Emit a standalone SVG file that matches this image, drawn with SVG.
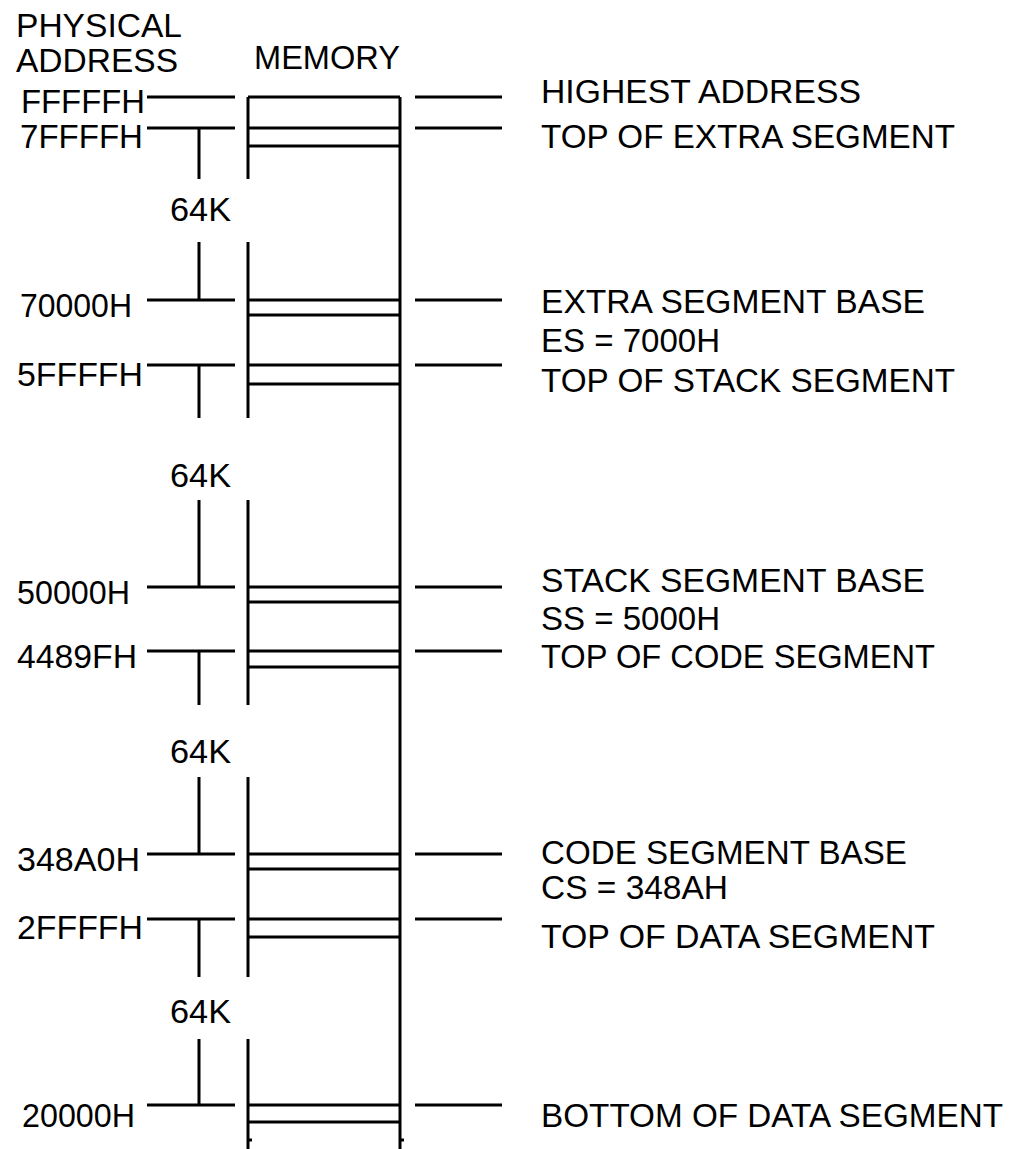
<svg xmlns="http://www.w3.org/2000/svg" width="1016" height="1149" viewBox="0 0 1016 1149">
<style>
text{font-family:"Liberation Sans",Arial,sans-serif;font-size:34px;fill:#000}
.ln{stroke:#000;stroke-width:3;fill:none;stroke-linecap:butt}
</style>
<rect width="1016" height="1149" fill="#fff"/>
<g id="headers">
<text x="16" y="37" textLength="166" lengthAdjust="spacingAndGlyphs">PHYSICAL</text>
<text x="16" y="72" textLength="162" lengthAdjust="spacingAndGlyphs">ADDRESS</text>
<text x="254" y="69" textLength="146" lengthAdjust="spacingAndGlyphs">MEMORY</text>
</g>
<g id="memory">
<path class="ln" d="M400,97V1149 M248,97V179 M248,242V418 M248,500V705 M248,777V977 M248,1039V1149 M248,97H400"/>
<path class="ln" d="M248,128H400 M248,146H400 M248,300H400 M248,315H400 M248,365H400 M248,384H400 M248,587H400 M248,602H400 M248,651H400 M248,667H400 M248,854H400 M248,869H400 M248,919H400 M248,937H400 M248,1105H400 M248,1122H400"/>
<path class="ln" d="M248,1140h4 M400,1140h4"/>
</g>
<g id="connectors">
<path class="ln" d="M147,97H235 M147,128H235 M147,300H235 M147,365H235 M147,587H235 M147,651H235 M147,854H235 M147,919H235 M147,1105H235"/>
<path class="ln" d="M415,97H502 M415,128H502 M415,300H502 M415,365H502 M415,587H502 M415,651H502 M415,854H502 M415,919H502 M415,1105H502"/>
<path class="ln" d="M199,128V179 M199,242V300 M199,365V418 M199,500V587 M199,651V705 M199,777V854 M199,919V977 M199,1039V1105"/>
</g>
<g id="addr-FFFFFH"><text x="21" y="113" textLength="124" lengthAdjust="spacingAndGlyphs">FFFFFH</text></g>
<g id="addr-7FFFFH"><text x="20" y="148" textLength="123" lengthAdjust="spacingAndGlyphs">7FFFFH</text></g>
<g id="size-es"><text x="170" y="221" textLength="61" lengthAdjust="spacingAndGlyphs">64K</text></g>
<g id="addr-70000H"><text x="20" y="317" textLength="112" lengthAdjust="spacingAndGlyphs">70000H</text></g>
<g id="addr-5FFFFH"><text x="17" y="386" textLength="126" lengthAdjust="spacingAndGlyphs">5FFFFH</text></g>
<g id="size-ss"><text x="170" y="487" textLength="61" lengthAdjust="spacingAndGlyphs">64K</text></g>
<g id="addr-50000H"><text x="17" y="604" textLength="113" lengthAdjust="spacingAndGlyphs">50000H</text></g>
<g id="addr-4489FH"><text x="17" y="668" textLength="120" lengthAdjust="spacingAndGlyphs">4489FH</text></g>
<g id="size-cs"><text x="170" y="763" textLength="61" lengthAdjust="spacingAndGlyphs">64K</text></g>
<g id="addr-348A0H"><text x="17" y="871" textLength="123" lengthAdjust="spacingAndGlyphs">348A0H</text></g>
<g id="addr-2FFFFH"><text x="17" y="939" textLength="126" lengthAdjust="spacingAndGlyphs">2FFFFH</text></g>
<g id="size-ds"><text x="170" y="1023" textLength="61" lengthAdjust="spacingAndGlyphs">64K</text></g>
<g id="addr-20000H"><text x="22" y="1127" textLength="113" lengthAdjust="spacingAndGlyphs">20000H</text></g>
<g id="label-highest"><text x="541" y="103" textLength="320" lengthAdjust="spacingAndGlyphs">HIGHEST ADDRESS</text></g>
<g id="label-top-es"><text x="541" y="148" textLength="414" lengthAdjust="spacingAndGlyphs">TOP OF EXTRA SEGMENT</text></g>
<g id="label-es-base"><text x="541" y="313" textLength="384" lengthAdjust="spacingAndGlyphs">EXTRA SEGMENT BASE</text><text x="541" y="352" textLength="179" lengthAdjust="spacingAndGlyphs">ES = 7000H</text></g>
<g id="label-top-ss"><text x="541" y="392" textLength="414" lengthAdjust="spacingAndGlyphs">TOP OF STACK SEGMENT</text></g>
<g id="label-ss-base"><text x="541" y="592" textLength="384" lengthAdjust="spacingAndGlyphs">STACK SEGMENT BASE</text><text x="541" y="630" textLength="179" lengthAdjust="spacingAndGlyphs">SS = 5000H</text></g>
<g id="label-top-cs"><text x="541" y="668" textLength="394" lengthAdjust="spacingAndGlyphs">TOP OF CODE SEGMENT</text></g>
<g id="label-cs-base"><text x="541" y="864" textLength="366" lengthAdjust="spacingAndGlyphs">CODE SEGMENT BASE</text><text x="541" y="899" textLength="187" lengthAdjust="spacingAndGlyphs">CS = 348AH</text></g>
<g id="label-top-ds"><text x="541" y="948" textLength="394" lengthAdjust="spacingAndGlyphs">TOP OF DATA SEGMENT</text></g>
<g id="label-ds-bottom"><text x="541" y="1127" textLength="462" lengthAdjust="spacingAndGlyphs">BOTTOM OF DATA SEGMENT</text></g>
</svg>
